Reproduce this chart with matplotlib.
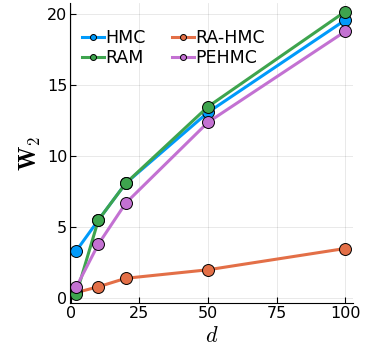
import matplotlib
matplotlib.use('Agg')
import matplotlib.pyplot as plt

# dimensions d and W2 distance per sampler
dims = [2, 10, 20, 50, 100]
hmc = [3.35, 5.5, 8.1, 13.1, 19.6]
ram = [0.3, 5.5, 8.1, 13.5, 20.2]
ra_hmc = [0.4, 0.8, 1.4, 2.0, 3.5]
pehmc = [0.8, 3.8, 6.7, 12.4, 18.8]

series = [
    ('HMC', hmc, '#009AFA'),
    ('RA-HMC', ra_hmc, '#E36F47'),
    ('RAM', ram, '#3EA44E'),
    ('PEHMC', pehmc, '#C371D2'),
]

plt.rcParams['mathtext.fontset'] = 'cm'

fig = plt.figure(figsize=(3.67, 3.48), dpi=100)
ax = fig.add_axes([0.191, 0.129, 0.771, 0.862])

for name, vals, color in series:
    ax.plot(dims, vals, color=color, lw=2.2, marker='o', markersize=8.6,
            markeredgecolor='black', markeredgewidth=0.7, label=name)

ax.set_xlim(-0.3, 102.9)
ax.set_ylim(-0.35, 20.8)
ax.set_xticks([0, 25, 50, 75, 100])
ax.set_yticks([0, 5, 10, 15, 20])
ax.tick_params(direction='in', length=4, width=0.8, labelsize=11.5, pad=2)
ax.grid(True, color='black', alpha=0.1, lw=0.6)
ax.set_axisbelow(True)
for side in ['top', 'right']:
    ax.spines[side].set_visible(False)

ax.set_xlabel(r'$d$', fontsize=16, labelpad=4)
ax.set_ylabel(r'$\mathbf{W}_2$', fontsize=17, labelpad=3)

# legend: HMC / RAM in column 1, RA-HMC / PEHMC in column 2
handles, labels = ax.get_legend_handles_labels()
order = [0, 2, 1, 3]
ax.legend([handles[i] for i in order], [labels[i] for i in order],
          ncol=2, loc='upper left', frameon=False, fontsize=12.5,
          markerscale=0.5, handlelength=1.25, handletextpad=0.1,
          columnspacing=1.5, labelspacing=0.12,
          bbox_to_anchor=(0.0, 0.955), borderaxespad=0.3)

fig.savefig('out.png', dpi=100)
